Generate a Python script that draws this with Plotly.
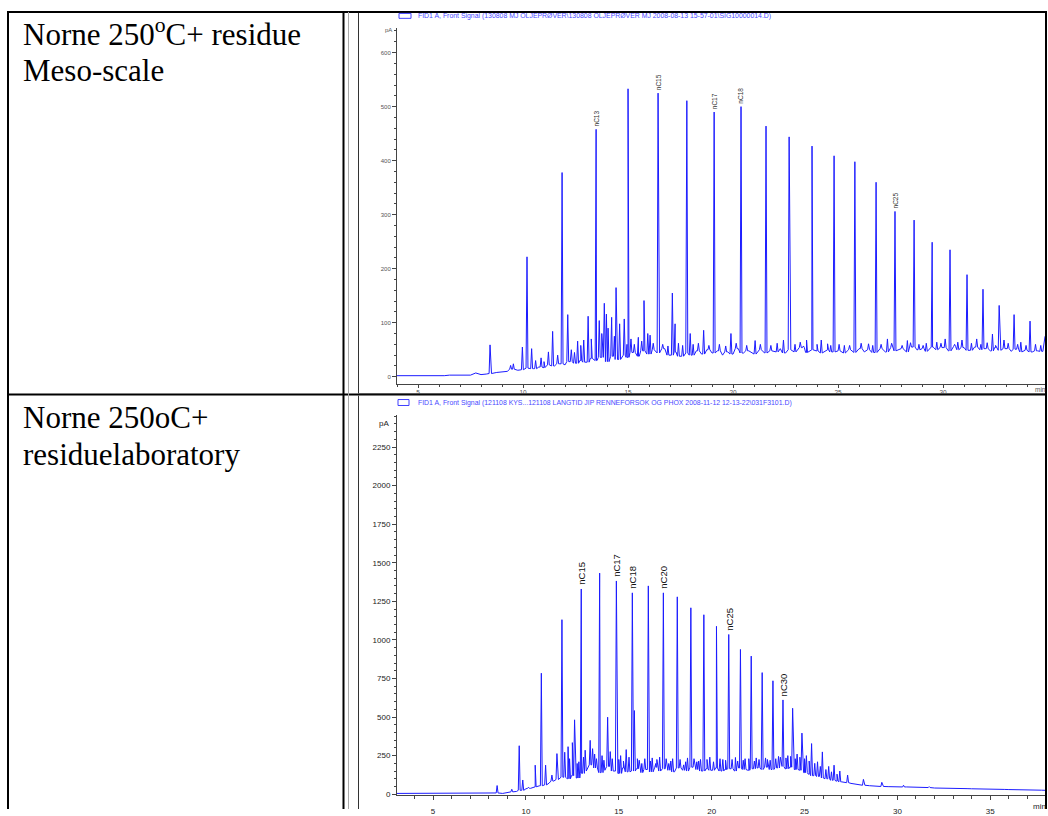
import plotly.graph_objects as go

W, H = 1048, 816

# ---------------- data: Norne 250oC+ residue, meso-scale (top) ----------------
meso_base_t0, meso_base_dt = 4.0, 0.25
meso_base_pA = [
    2, 2, 2, 2,      # 4
    2, 2, 1, 1,      # 5
    1, 2, 3, 3,      # 6
    2, 2, 3, 7,      # 7
    4, 5, 6, 8,      # 8
    9, 10, 14, 12,   # 9
    13, 16, 15, 18,  # 10
    17, 22, 20, 24,  # 11
    22, 28, 25, 30,  # 12
    27, 34, 30, 36,  # 13
    28, 38, 32, 40,  # 14
    36, 45, 38, 48,  # 15
    42, 50, 44, 52,  # 16
    40, 46, 38, 44,  # 17
    40, 48, 42, 50,  # 18
    44, 48, 40, 46,  # 19
    42, 52, 44, 48,  # 20
    42, 50, 44, 48,  # 21
    46, 52, 44, 50,  # 22
    46, 54, 45, 50,  # 23
    48, 44, 50, 46,  # 24
    48, 44, 50, 45,  # 25
    52, 46, 50, 45,  # 26
    52, 46, 54, 48,  # 27
    52, 46, 55, 50,  # 28
    52, 47, 55, 50,  # 29
    54, 48, 56, 50,  # 30
    54, 49, 55, 50,  # 31
    52, 48, 54, 49,  # 32
    52, 47, 51, 46,  # 33
    49, 46, 48, 47,  # 34
    75,              # 35
]
# n-alkane and other resolved peaks
meso_peak_t = [8.43, 9.41, 9.54, 9.97, 10.19, 10.41, 10.86, 11.21, 11.41, 11.86,
               12.13, 12.60, 12.89, 13.10, 13.48, 13.63, 13.87, 13.97, 14.22, 14.43,
               14.82, 15.00, 15.14, 15.49, 15.76, 15.94, 16.05, 16.43, 17.11, 17.24,
               17.80, 17.96, 18.35, 18.60, 19.10, 19.90, 20.38, 21.05, 21.57, 22.40,
               22.67, 23.20, 23.50, 23.76, 24.20, 24.50, 24.81, 25.30, 25.80, 26.45,
               26.81, 27.35, 27.71, 28.30, 28.62, 29.20, 29.48, 29.70, 30.10, 30.33,
               30.90, 31.14, 31.60, 31.90, 32.35, 32.67, 32.90, 33.38, 33.70, 34.14,
               34.90]
meso_peak_pA = [59, 21, 24, 55, 222, 52, 35, 46, 84, 378,
                115, 66, 68, 112, 458, 104, 136, 116, 110, 165,
                107, 533, 70, 73, 141, 80, 77, 525, 155, 98,
                511, 80, 62, 86, 490, 80, 500, 67, 464, 68,
                444, 64, 68, 427, 68, 61, 409, 58, 398, 61,
                360, 70, 306, 67, 290, 62, 249, 64, 70, 235,
                68, 189, 70, 162, 79, 132, 68, 115, 64, 103,
                76]
# small unresolved peaks in the baseline hump
meso_minor_t = [10.60, 11.00, 11.65, 12.30, 12.45, 12.75, 13.25, 13.75, 14.05, 14.35,
                14.60, 14.95, 15.30, 15.65, 16.20, 16.65, 16.90, 17.40, 17.60, 18.10,
                18.85, 19.35, 19.65, 20.15, 20.65, 21.30, 21.80, 22.10, 22.95, 23.35,
                24.00, 24.65, 25.05, 25.55, 26.10, 26.65, 27.05, 27.55, 28.05, 28.45,
                28.85, 29.05, 29.90, 30.55, 30.70, 31.35, 31.80, 32.10, 32.50, 33.10,
                33.55, 33.95, 34.40, 34.65]
meso_minor_pA = [30, 28, 40, 50, 45, 58, 70, 80, 90, 75,
                 98, 60, 60, 66, 62, 60, 57, 62, 58, 60,
                 58, 60, 57, 62, 58, 60, 58, 62, 60, 57,
                 60, 58, 60, 58, 62, 58, 60, 62, 58, 63,
                 60, 58, 62, 60, 64, 62, 60, 63, 58, 62,
                 60, 58, 60, 58]
meso_labels = ["nC13", "nC15", "nC17", "nC18", "nC25"]
meso_label_t = [13.48, 16.43, 19.10, 20.38, 27.71]
meso_xticks = [5, 10, 15, 20, 25, 30]
meso_xticklabels = ["5", "10", "15", "20", "25", "30"]
meso_yticks = [0, 100, 200, 300, 400, 500, 600]
meso_yticklabels = ["0", "100", "200", "300", "400", "500", "600"]
meso_title = r"FID1 A, Front Signal (130808 MJ OLJEPRØVER\130808 OLJEPRØVER MJ 2008-08-13 15-57-01\SIG10000014.D)"

# ---------------- data: Norne 250oC+ residue, laboratory (bottom) ----------------
lab_base_t0, lab_base_dt = 3.0, 0.25
lab_base_pA = [
    5, 5, 5, 5,          # 3
    5, 5, 5, 5,          # 4
    5, 5, 5, 5,          # 5
    5, 5, 5, 5,          # 6
    5, 5, 5, 5,          # 7
    5, 5, 8, 5,          # 8
    8, 15, 18, 25,       # 9
    35, 38, 48, 55,      # 10
    60, 72, 85, 95,      # 11
    110, 100, 120, 105,  # 12
    135, 150, 190, 170,  # 13
    140, 155, 180, 150,  # 14
    135, 170, 145, 150,  # 15
    165, 140, 160, 145,  # 16
    175, 150, 165, 155,  # 17
    145, 170, 155, 150,  # 18
    175, 160, 150, 165,  # 19
    155, 170, 150, 160,  # 20
    165, 150, 170, 160,  # 21
    155, 165, 170, 160,  # 22
    175, 160, 170, 180,  # 23
    165, 175, 160, 155,  # 24
    140, 130, 120, 115,  # 25
    105, 100, 90, 85,    # 26
    80, 75, 70, 65,      # 27
    62, 58, 55, 52,      # 28
    50, 50, 49, 48,      # 29
    48, 47, 47, 46,      # 30
    45, 45, 44, 43,      # 31
    40, 40, 39, 39,      # 32
    38, 37, 37, 36,      # 33
    35, 35, 34, 33,      # 34
    32, 32, 31, 31,      # 35
    30, 30, 29, 29,      # 36
    28, 28, 27, 26,      # 37
    25,                  # 38
]
lab_peak_t = [8.45, 9.24, 9.64, 9.83, 10.14, 10.50, 10.83, 11.06, 11.40, 11.67,
              11.94, 12.09, 12.27, 12.50, 12.62, 12.76, 12.98, 13.19, 13.46, 13.59,
              13.80, 13.97, 14.20, 14.40, 14.54, 14.87, 15.10, 15.40, 15.73, 15.84,
              16.00, 16.24, 16.59, 16.80, 16.99, 17.20, 17.40, 17.69, 17.90, 18.15,
              18.49, 18.70, 18.88, 19.20, 19.40, 19.58, 19.90, 20.26, 20.60, 20.92,
              21.28, 21.55, 21.80, 22.13, 22.40, 22.72, 23.00, 23.30, 23.60, 23.84,
              24.10, 24.36, 24.60, 24.86, 25.10, 25.38, 25.70, 25.96, 26.30, 26.59,
              26.90, 27.32, 28.17, 29.16, 30.33, 31.71, 33.32, 37.50]
lab_peak_pA = [56, 32, 314, 92, 45, 188, 784, 188, 124, 263,
               1131, 272, 308, 334, 482, 199, 1330, 285, 349, 295,
               230, 1433, 220, 499, 276, 1382, 250, 289, 1305, 542,
               230, 199, 1350, 235, 199, 240, 1305, 199, 230, 1279,
               190, 235, 1208, 210, 225, 1163, 240, 1088, 225, 1035,
               238, 938, 230, 895, 235, 788, 225, 735, 245, 611,
               250, 557, 260, 396, 250, 328, 210, 274, 180, 188,
               150, 124, 96, 77, 58, 49, 39, 28]
lab_minor_t = [12.35, 12.85, 13.10, 13.70, 14.10, 14.65, 15.00, 15.25, 15.55, 16.10,
               16.40, 16.70, 17.05, 17.55, 17.80, 18.30, 18.60, 19.05, 19.30, 19.75,
               20.10, 20.45, 20.75, 21.10, 21.40, 21.70, 22.00, 22.30, 22.55, 22.90,
               23.15, 23.45, 23.70, 24.00, 24.25, 24.50, 24.75, 25.00, 25.25, 25.55,
               25.85, 26.15, 26.45, 26.75]
lab_minor_pA = [230, 210, 240, 260, 250, 230, 225, 215, 240, 220,
                230, 215, 225, 230, 215, 225, 210, 230, 215, 225,
                210, 230, 220, 225, 215, 220, 230, 215, 225, 235,
                220, 230, 240, 235, 245, 230, 240, 230, 215, 200,
                180, 160, 145, 130]
lab_labels = ["nC15", "nC17", "nC18", "nC20", "nC25", "nC30"]
lab_label_t = [12.98, 14.87, 15.73, 17.40, 20.92, 23.84]
lab_xticks = [5, 10, 15, 20, 25, 30, 35]
lab_xticklabels = ["5", "10", "15", "20", "25", "30", "35"]
lab_yticks = [0, 250, 500, 750, 1000, 1250, 1500, 1750, 2000, 2250]
lab_yticklabels = ["0", "250", "500", "750", "1000", "1250", "1500", "1750", "2000", "2250"]
lab_title = r"FID1 A, Front Signal (121108 KYS...121108 LANGTID JIP RENNEFORSOK OG PHOX 2008-11-12 12-13-22\031F3101.D)"

row_texts = [["Norne 250<sup>o</sup>C+ residue", "Meso-scale"],
             ["Norne 250oC+", "residuelaboratory"]]


def chromatogram(t0, dt, base, pk_t, pk_pA, half_width):
    pts = [(t0 + i * dt, v) for i, v in enumerate(base)]
    n = len(base)
    for t, h in zip(pk_t, pk_pA):
        foot = base[min(n - 1, max(0, int(round((t - t0) / dt))))]
        pts += [(t - half_width, foot), (t, h), (t + half_width, foot)]
    pts.sort(key=lambda p: p[0])
    return [p[0] for p in pts], [p[1] for p in pts]


def px(x):
    return x / W


def py(y):
    return 1 - y / H


LINE = "#1c1cff"
SANS = "Liberation Sans, Arial, sans-serif"
NARROW = "Liberation Sans Narrow, Arial Narrow, Liberation Sans, Arial, sans-serif"
SERIF = "Liberation Serif, Times New Roman, serif"

fig = go.Figure()
mx, my = chromatogram(meso_base_t0, meso_base_dt, meso_base_pA,
                      meso_peak_t + meso_minor_t, meso_peak_pA + meso_minor_pA, 0.045)
fig.add_trace(go.Scatter(x=mx, y=my, mode="lines", line=dict(color=LINE, width=1),
                         xaxis="x", yaxis="y", hoverinfo="skip"))
lx, ly = chromatogram(lab_base_t0, lab_base_dt, lab_base_pA,
                      lab_peak_t + lab_minor_t, lab_peak_pA + lab_minor_pA, 0.05)
fig.add_trace(go.Scatter(x=lx, y=ly, mode="lines", line=dict(color=LINE, width=1),
                         xaxis="x2", yaxis="y2", hoverinfo="skip"))

axcol = "#444"
common = dict(showgrid=False, zeroline=False, showline=True, linecolor=axcol, linewidth=1,
              ticks="outside", tickcolor=axcol, tickmode="array")

fig.update_layout(
    width=W, height=H, margin=dict(l=0, r=0, t=0, b=0),
    paper_bgcolor="white", plot_bgcolor="white", showlegend=False,
    xaxis=dict(domain=[px(397), px(1046)], range=[4.0, 34.9], anchor="y",
               tickvals=meso_xticks, ticktext=meso_xticklabels, ticklen=3,
               tickfont=dict(family=SANS, size=6.5, color="#555"),
               minor=dict(dtick=1, tick0=0, ticklen=2, ticks="outside", tickcolor=axcol), **common),
    yaxis=dict(domain=[py(387), py(28)], range=[-12.8, 646], anchor="x",
               tickvals=meso_yticks, ticktext=meso_yticklabels, ticklen=4,
               tickfont=dict(family=SANS, size=6, color="#555"),
               minor=dict(dtick=20, tick0=0, ticklen=2, ticks="outside", tickcolor=axcol), **common),
    xaxis2=dict(domain=[px(397), px(1046)], range=[3.06, 38.0], anchor="y2",
                tickvals=lab_xticks, ticktext=lab_xticklabels, ticklen=4, ticklabelstandoff=4,
                tickfont=dict(family=NARROW, size=8, color="#222"),
                minor=dict(dtick=1, tick0=0, ticklen=3, ticks="outside", tickcolor=axcol), **common),
    yaxis2=dict(domain=[py(802), py(419)], range=[-6, 2455], anchor="x2",
                tickvals=lab_yticks, ticktext=lab_yticklabels, ticklen=4,
                tickfont=dict(family=NARROW, size=8, color="#222"),
                minor=dict(dtick=50, tick0=0, ticklen=2, ticks="outside", tickcolor=axcol), **common),
)

shapes = []
def line(x0, y0, x1, y1, color="black", width=2):
    shapes.append(dict(type="line", xref="paper", yref="paper", x0=px(x0), y0=py(y0),
                       x1=px(x1), y1=py(y1), line=dict(color=color, width=width)))

# table borders
line(7, 12, 1047, 12)
line(8, 11, 8, 816)
line(343.5, 11, 343.5, 816)
line(1046, 11, 1046, 816)
line(7, 398, 1047, 398)
line(348.5, 12, 348.5, 816, color="#aaaaaa", width=1)
# picture frames
line(358.5, 13, 358.5, 397, color="#333", width=1)
line(358.5, 399, 358.5, 816, color="#333", width=1)
line(358, 397, 1045, 397, color="#555", width=1)
# legend boxes in headers
shapes.append(dict(type="rect", xref="paper", yref="paper", x0=px(399), x1=px(411), y0=py(18.5), y1=py(13.5),
                   line=dict(color="#4040ff", width=1)))
shapes.append(dict(type="rect", xref="paper", yref="paper", x0=px(398), x1=px(409), y0=py(409), y1=py(403),
                   line=dict(color="#4040ff", width=1)))

ann = []
# left column text (visual centre of each line)
for (l1, l2), (c1, c2) in zip(row_texts, [(33, 71), (421, 458)]):
    for txt, c in ((l1, c1), (l2, c2)):
        ann.append(dict(x=px(21), y=py(c), xref="paper", yref="paper", text=txt,
                        showarrow=False, xanchor="left", yanchor="middle",
                        font=dict(family=SERIF, size=31, color="black")))
# headers
ann.append(dict(x=px(416), y=py(16), xref="paper", yref="paper", text=meso_title, showarrow=False,
                xanchor="left", yanchor="middle", font=dict(family=SANS, size=6.9, color="#4848ff")))
ann.append(dict(x=px(416), y=py(406), xref="paper", yref="paper", text=lab_title, showarrow=False,
                xanchor="left", yanchor="middle", font=dict(family=NARROW, size=6.9, color="#4848ff")))
# unit labels
ann.append(dict(x=px(394), y=py(30), xref="paper", yref="paper", text="pA", showarrow=False,
                xanchor="right", yanchor="middle", font=dict(family=SANS, size=6, color="#555")))
ann.append(dict(x=px(391), y=py(427), xref="paper", yref="paper", text="pA", showarrow=False,
                xanchor="right", yanchor="middle", font=dict(family=NARROW, size=8, color="#222")))
ann.append(dict(x=px(1048), y=py(393), xref="paper", yref="paper", text="min", showarrow=False,
                xanchor="right", yanchor="middle", font=dict(family=SANS, size=6.5, color="#555")))
ann.append(dict(x=px(1048), y=py(813), xref="paper", yref="paper", text="min", showarrow=False,
                xanchor="right", yanchor="middle", font=dict(family=NARROW, size=8, color="#222")))
# peak labels
for name, t in zip(meso_labels, meso_label_t):
    h = meso_peak_pA[meso_peak_t.index(t)]
    ann.append(dict(x=t, y=h, xref="x", yref="y", text=name, textangle=-90, showarrow=False,
                    xanchor="center", yanchor="bottom", yshift=1,
                    font=dict(family=SANS, size=6.5, color="#333")))
for name, t in zip(lab_labels, lab_label_t):
    h = lab_peak_pA[lab_peak_t.index(t)]
    ann.append(dict(x=t, y=h, xref="x2", yref="y2", text=name, textangle=-90, showarrow=False,
                    xanchor="center", yanchor="bottom", yshift=2,
                    font=dict(family=SANS, size=9.5, color="#111")))

fig.update_layout(shapes=shapes, annotations=ann)
fig.write_html("out.html")
